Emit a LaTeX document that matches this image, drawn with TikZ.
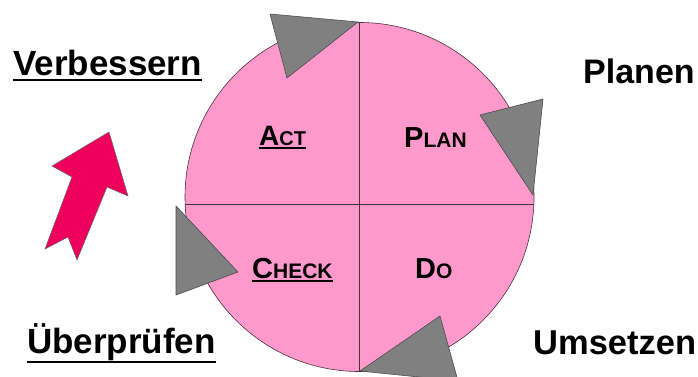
\documentclass[tikz,border=0pt]{standalone}
\usepackage{fontspec}
\setmainfont{Liberation Sans}
\definecolor{pdcapink}{RGB}{255,153,204}
\definecolor{pdcagray}{RGB}{128,128,128}
\definecolor{pdcared}{RGB}{238,0,92}
\definecolor{pdcaline}{RGB}{70,50,60}
\begin{document}
\begin{tikzpicture}[x=1pt,y=-1pt,
  outer/.style={font=\fontsize{35}{35}\selectfont\bfseries, inner sep=0pt, anchor=base west},
  inner/.style={inner sep=0pt, anchor=base west},
  tri/.style={fill=pdcagray, draw=black!70, line width=0.6pt, line join=round},
  uline/.style={line width=2pt}]
\useasboundingbox (0,0) rectangle (698,376);
% circle
\node[circle, minimum size=349pt, inner sep=0pt, fill=pdcapink, draw=pdcaline, line width=0.6pt] (c) at (359.5,197) {};
\coordinate (ctop) at (359.5,22.5);
\coordinate (cbot) at (359.5,371.5);
\coordinate (cl) at (185.2,204.5);
\coordinate (cr) at (533.8,204.5);
\draw[pdcaline, line width=0.8pt] (ctop) -- (cbot);
\draw[pdcaline, line width=0.8pt] (cl) -- (cr);
% triangles
\draw[tri] (270,14) -- (358,22) -- (287,78) -- cycle;
\draw[tri] (480,115) -- (543,99) -- (533,195) -- cycle;
\draw[tri] (440,316) -- (458,381) -- (360,371) -- cycle;
\draw[tri] (176,206) -- (238,272) -- (176,295) -- cycle;
% red arrow
\draw[fill=pdcared, draw=black!60, line width=0.5pt, line join=miter]
  (109,132) -- (128,196) -- (107,187) -- (77,260) -- (68,237) -- (45,249) -- (72,177) -- (52,166) -- cycle;
% outer labels
\node[outer] (verb) at (13,75) {Verbessern};
\draw[uline] ([yshift=-5pt]verb.base west) -- ([yshift=-5pt]verb.base east);
\node[outer, font=\fontsize{34}{34}\selectfont\bfseries] (plan) at (583,83) {Planen};
\node[outer] (ueber) at (27,353) {Überprüfen};
\draw[uline] ([yshift=-9pt]ueber.base west) -- ([yshift=-9pt]ueber.base east);
\node[outer, font=\fontsize{34.5}{34.5}\selectfont\bfseries] (ums) at (533,354) {Umsetzen};
% inner labels
\node[inner] (act) at (259,145) {\bfseries\fontsize{28}{28}\selectfont A\fontsize{20}{20}\selectfont CT};
\draw[line width=1.5pt] ([yshift=-3pt]act.base west) -- ([yshift=-3pt]act.base east);
\node[inner] (pl) at (404,147) {\bfseries\fontsize{29}{29}\selectfont P\fontsize{21}{21}\selectfont LAN};
\node[inner] (chk) at (252,278) {\bfseries\fontsize{29}{29}\selectfont C\fontsize{21}{21}\selectfont HECK};
\draw[line width=1.5pt] ([yshift=-3pt]chk.base west) -- ([yshift=-3pt]chk.base east);
\node[inner] (do) at (415,278) {\bfseries\fontsize{29}{29}\selectfont D\fontsize{21}{21}\selectfont O};
\end{tikzpicture}
\end{document}
